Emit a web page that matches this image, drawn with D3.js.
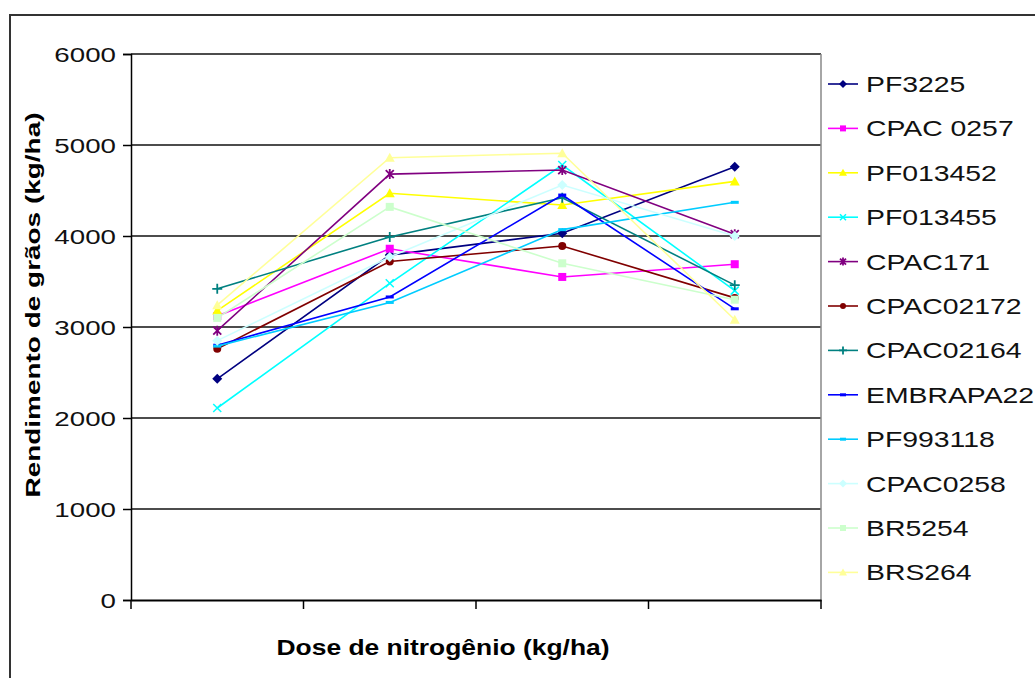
<!DOCTYPE html>
<html><head><meta charset="utf-8">
<script src="https://cdn.jsdelivr.net/npm/d3@7"></script>
<style>html,body{margin:0;padding:0;background:#fff;}svg{display:block;}</style>
</head><body>
<script>
// ---- data ----
const categories = ["N1", "N2", "N3", "N4"];
const yTicks = [0, 1000, 2000, 3000, 4000, 5000, 6000];
const seriesNames = ["PF3225", "CPAC 0257", "PF013452", "PF013455", "CPAC171", "CPAC02172",
  "CPAC02164", "EMBRAPA22", "PF993118", "CPAC0258", "BR5254", "BRS264"];
const pf3225    = [2430, 3790, 4030, 4760];
const cpac0257  = [3120, 3860, 3550, 3690];
const pf013452  = [3180, 4470, 4340, 4600];
const pf013455  = [2110, 3480, 4780, 3400];
const cpac171   = [2960, 4680, 4725, 4020];
const cpac02172 = [2760, 3720, 3890, 3320];
const cpac02164 = [3420, 3990, 4420, 3460];
const embrapa22 = [2800, 3330, 4450, 3200];
const pf993118  = [2790, 3270, 4070, 4370];
const cpac0258  = [2850, 3770, 4560, 4000];
const br5254    = [3100, 4320, 3700, 3300];
const brs264    = [3240, 4860, 4910, 3080];
const seriesValues = [pf3225, cpac0257, pf013452, pf013455, cpac171, cpac02172,
  cpac02164, embrapa22, pf993118, cpac0258, br5254, brs264];
const colors = ["#000080", "#FF00FF", "#FFFF00", "#00FFFF", "#800080", "#800000",
  "#008080", "#0000FF", "#00CCFF", "#CCFFFF", "#CCFFCC", "#FFFF99"];
const markers = ["diamond", "square", "triangle", "x", "star", "circle",
  "plus", "dash", "dash", "diamond", "square", "triangle"];

// ---- layout ----
const W = 1035, H = 678;
const m = {left: 131, right: 821, top: 54, bottom: 600};

const svg = d3.select("body").append("svg").attr("width", W).attr("height", H);

// outer frame
svg.append("rect").attr("x", 10).attr("y", 15).attr("width", 1100).attr("height", 700)
  .attr("fill", "#fff").attr("stroke", "#333").attr("stroke-width", 2);

const x = d3.scaleBand().domain(categories).range([m.left, m.right]);
const y = d3.scaleLinear().domain([0, 6000]).range([m.bottom, m.top]);

// gridlines
svg.append("g").selectAll("line").data(yTicks.filter(d => d > 0)).join("line")
  .attr("x1", m.left).attr("x2", m.right)
  .attr("y1", d => y(d)).attr("y2", d => y(d))
  .attr("stroke", "#111").attr("stroke-width", 1.6);

// plot right border
svg.append("line").attr("x1", m.right).attr("x2", m.right).attr("y1", m.top).attr("y2", m.bottom)
  .attr("stroke", "#888").attr("stroke-width", 1.5);

// y axis
const yAxis = svg.append("g").attr("transform", `translate(${m.left},0)`)
  .call(d3.axisLeft(y).tickValues(yTicks).tickSize(8).tickFormat(""));
yAxis.select(".domain").attr("stroke", "#000").attr("stroke-width", 1.5);
yAxis.selectAll(".tick line").attr("stroke", "#000").attr("stroke-width", 1.5);

svg.append("g").selectAll("text").data(yTicks).join("text")
  .attr("transform", d => `translate(116,${y(d)}) scale(1.32,1)`)
  .attr("text-anchor", "end").attr("dy", "0.36em")
  .attr("font-family", "Liberation Sans, Arial, sans-serif").attr("font-size", 21)
  .attr("fill", "#111").text(d => d);

// x axis
const xAxis = svg.append("g").attr("transform", `translate(0,${m.bottom})`)
  .call(d3.axisBottom(x).tickSize(0).tickFormat(""));
xAxis.select(".domain").attr("stroke", "#000").attr("stroke-width", 1.8);
const bounds = categories.map(c => x(c)).concat([x(categories[categories.length - 1]) + x.bandwidth()]);
xAxis.selectAll("line.bt").data(bounds).join("line").attr("class", "bt")
  .attr("x1", d => d).attr("x2", d => d).attr("y1", 0).attr("y2", 9)
  .attr("stroke", "#000").attr("stroke-width", 1.5);

// axis titles
svg.append("text").attr("x", 443).attr("y", 655).attr("text-anchor", "middle")
  .attr("font-family", "Liberation Sans, Arial, sans-serif").attr("font-weight", "bold")
  .attr("font-size", 22).attr("textLength", 333).attr("lengthAdjust", "spacingAndGlyphs")
  .text("Dose de nitrogênio (kg/ha)");
svg.append("text").attr("transform", "translate(40,305) rotate(-90)").attr("text-anchor", "middle")
  .attr("font-family", "Liberation Sans, Arial, sans-serif").attr("font-weight", "bold")
  .attr("font-size", 21).attr("textLength", 385).attr("lengthAdjust", "spacingAndGlyphs")
  .text("Rendimento de grãos (kg/ha)");

// marker drawing
function drawMarker(g, type, color, s) {
  const h = s / 2;
  if (type === "diamond") g.append("path").attr("d", `M0,${-h-1}L${h+1},0L0,${h+1}L${-h-1},0Z`).attr("fill", color);
  else if (type === "square") g.append("rect").attr("x", -h).attr("y", -h).attr("width", s).attr("height", s).attr("fill", color);
  else if (type === "triangle") g.append("path").attr("d", `M0,${-h-1}L${h+1},${h}L${-h-1},${h}Z`).attr("fill", color);
  else if (type === "circle") g.append("circle").attr("r", h).attr("fill", color);
  else if (type === "x") g.append("path").attr("d", `M${-h},${-h}L${h},${h}M${-h},${h}L${h},${-h}`).attr("stroke", color).attr("stroke-width", 1.5);
  else if (type === "plus") g.append("path").attr("d", `M${-h-1},0L${h+1},0M0,${-h-1}L0,${h+1}`).attr("stroke", color).attr("stroke-width", 1.8);
  else if (type === "star") g.append("path").attr("d", `M${-h},${-h}L${h},${h}M${-h},${h}L${h},${-h}M0,${-h-1}L0,${h+1}`).attr("stroke", color).attr("stroke-width", 1.8);
  else if (type === "dash") g.append("path").attr("d", `M${-h},0L${h},0`).attr("stroke", color).attr("stroke-width", 3);
}

const line = d3.line().x((d, i) => x(categories[i]) + x.bandwidth() / 2).y(d => y(d));

const seriesG = svg.append("g");
seriesValues.forEach((vals, si) => {
  const g = seriesG.append("g");
  g.append("path").attr("d", line(vals)).attr("fill", "none")
    .attr("stroke", colors[si]).attr("stroke-width", 1.6);
  vals.forEach((v, i) => {
    const mg = g.append("g").attr("transform", `translate(${x(categories[i]) + x.bandwidth() / 2},${y(v)})`);
    drawMarker(mg, markers[si], colors[si], 8);
  });
});

// legend
const leg = svg.append("g");
const legY0 = 84, legStep = 44.4;
seriesNames.forEach((name, i) => {
  const yy = legY0 + i * legStep;
  leg.append("line").attr("x1", 828).attr("x2", 858).attr("y1", yy).attr("y2", yy)
    .attr("stroke", colors[i]).attr("stroke-width", 1.6);
  const mg = leg.append("g").attr("transform", `translate(843,${yy})`);
  drawMarker(mg, markers[i], colors[i], 6);
  leg.append("text").attr("transform", `translate(866,${yy}) scale(1.29,1)`).attr("dy", "0.36em")
    .attr("font-family", "Liberation Sans, Arial, sans-serif").attr("font-size", 22)
    .attr("fill", "#111").text(name);
});
</script>
</body></html>
